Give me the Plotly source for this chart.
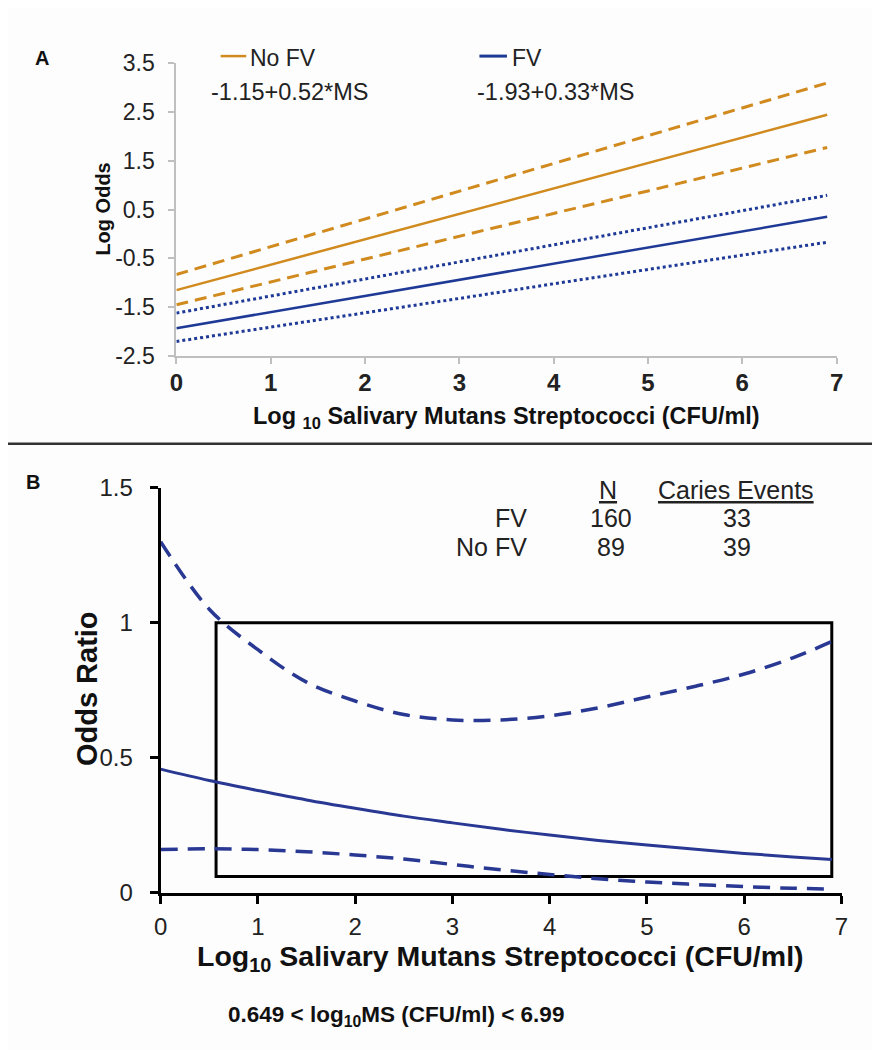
import plotly.graph_objects as go

# ---------------- Panel A data ----------------
X_A = [0, 1, 2, 3, 4, 5, 6, 6.9]
NOFV_FIT = [-1.15, -0.63, -0.11, 0.41, 0.93, 1.45, 1.97, 2.44]
NOFV_UP = [-0.83, -0.26, 0.31, 0.87, 1.44, 2.01, 2.58, 3.09]
NOFV_LO = [-1.45, -0.98, -0.52, -0.05, 0.42, 0.88, 1.35, 1.77]
FV_FIT = [-1.93, -1.60, -1.27, -0.94, -0.61, -0.28, 0.05, 0.35]
FV_UP = [-1.62, -1.27, -0.92, -0.57, -0.22, 0.13, 0.47, 0.79]
FV_LO = [-2.20, -1.91, -1.61, -1.32, -1.02, -0.73, -0.44, -0.17]
A_YTICKS = [-2.5, -1.5, -0.5, 0.5, 1.5, 2.5, 3.5]
A_XTICKS = [0, 1, 2, 3, 4, 5, 6, 7]
EQ_NOFV = "-1.15+0.52*MS"
EQ_FV = "-1.93+0.33*MS"

# ---------------- Panel B data ----------------
X_B = [0, 0.5, 1, 1.5, 2, 2.5, 3, 3.5, 4, 4.5, 5, 5.5, 6, 6.5, 6.9]
OR_FIT = [0.458, 0.416, 0.379, 0.344, 0.313, 0.284, 0.259, 0.235, 0.214, 0.194,
          0.177, 0.161, 0.146, 0.133, 0.123]
OR_UP = [1.30, 1.05, 0.90, 0.78, 0.71, 0.66, 0.64, 0.64, 0.655, 0.685,
         0.725, 0.765, 0.81, 0.87, 0.93]
OR_LO = [0.16, 0.163, 0.16, 0.152, 0.14, 0.125, 0.105, 0.085, 0.068, 0.052,
         0.04, 0.031, 0.023, 0.017, 0.014]
B_YTICKS = [0, 0.5, 1, 1.5]
B_YTICKTEXT = ["0", "0.5", "1", "1.5"]
B_XTICKS = [0, 1, 2, 3, 4, 5, 6, 7]
BOX_X = [0.57, 6.9]
BOX_Y = [0.06, 1.0]
TABLE_ROWS = ["FV", "No FV"]
TABLE_N = [160, 89]
TABLE_EVENTS = [33, 39]

ORANGE = "#D08A1E"
BLUE_A = "#1F3A96"
BLUE_B = "#283893"
FONT = "Liberation Sans, Arial, sans-serif"

# the page body has an 8px default margin; the figure is sized to fit the window
OFF = 8
W, H = 880 - OFF, 1050 - OFF


def px(x):
    return (x - OFF) / W


def py(y):
    return 1 - (y - OFF) / H


fig = go.Figure()

# Panel A traces
fig.add_trace(go.Scatter(x=X_A, y=NOFV_UP, mode="lines", xaxis="x", yaxis="y",
                         line=dict(color=ORANGE, width=3, dash="12px,7px")))
fig.add_trace(go.Scatter(x=X_A, y=NOFV_FIT, mode="lines", xaxis="x", yaxis="y",
                         line=dict(color=ORANGE, width=2.5)))
fig.add_trace(go.Scatter(x=X_A, y=NOFV_LO, mode="lines", xaxis="x", yaxis="y",
                         line=dict(color=ORANGE, width=3, dash="12px,7px")))
fig.add_trace(go.Scatter(x=X_A, y=FV_UP, mode="lines", xaxis="x", yaxis="y",
                         line=dict(color=BLUE_A, width=3, dash="3px,3px")))
fig.add_trace(go.Scatter(x=X_A, y=FV_FIT, mode="lines", xaxis="x", yaxis="y",
                         line=dict(color=BLUE_A, width=2.5)))
fig.add_trace(go.Scatter(x=X_A, y=FV_LO, mode="lines", xaxis="x", yaxis="y",
                         line=dict(color=BLUE_A, width=3, dash="3px,3px")))

# Panel B traces
fig.add_trace(go.Scatter(x=X_B, y=OR_UP, mode="lines", xaxis="x2", yaxis="y2",
                         line=dict(color=BLUE_B, width=3.5, dash="17px,10px", shape="spline")))
fig.add_trace(go.Scatter(x=X_B, y=OR_FIT, mode="lines", xaxis="x2", yaxis="y2",
                         line=dict(color=BLUE_B, width=3, shape="spline")))
fig.add_trace(go.Scatter(x=X_B, y=OR_LO, mode="lines", xaxis="x2", yaxis="y2",
                         line=dict(color=BLUE_B, width=3.5, dash="17px,10px", shape="spline")))

shapes = [
    dict(type="rect", xref="x2", yref="y2", x0=BOX_X[0], x1=BOX_X[1], y0=BOX_Y[0], y1=BOX_Y[1],
         line=dict(color="black", width=3), fillcolor="rgba(0,0,0,0)", layer="below"),
    dict(type="line", xref="paper", yref="paper", x0=px(0), x1=1, y0=py(441), y1=py(441),
         line=dict(color="#333333", width=2.5)),
    dict(type="line", xref="paper", yref="paper", x0=px(217), x1=px(243), y0=py(43), y1=py(43),
         line=dict(color=ORANGE, width=2.5)),
    dict(type="line", xref="paper", yref="paper", x0=px(480), x1=px(508), y0=py(43), y1=py(43),
         line=dict(color=BLUE_A, width=3)),
]

ann = []


def add_text(text, x, y, size, xanchor="center", bold=False, color="#222222", angle=0, family=FONT):
    ann.append(dict(text=text, xref="paper", yref="paper", x=px(x), y=py(y), showarrow=False,
                    xanchor=xanchor, yanchor="middle", textangle=angle,
                    font=dict(family=family, size=size, color=color,
                              weight="bold" if bold else "normal")))


add_text("A", 26, 45, 20, xanchor="left", bold=True, color="#111")
add_text("B", 17, 480, 20, xanchor="left", bold=True, color="#111")
add_text("No FV", 245, 45, 23, xanchor="left")
add_text("FV", 511, 45, 23, xanchor="left")
add_text(EQ_NOFV, 205, 80, 23.5, xanchor="left")
add_text(EQ_FV, 476, 80, 23.5, xanchor="left")
add_text("Log Odds", 97, 200, 20, bold=True, angle=-90, color="#111")
add_text("Log <sub>10</sub> Salivary Mutans Streptococci (CFU/ml)", 508, 414, 23.5, bold=True, color="#111")

# Panel B texts
add_text("Odds Ratio", 81, 692, 29, bold=True, angle=-90, color="#111")
add_text("Log<sub>10</sub> Salivary Mutans Streptococci (CFU/ml)", 501, 969, 28.5, bold=True, color="#111")
add_text("0.649 &lt; log<sub>10</sub>MS (CFU/ml) &lt; 6.99", 395, 1028, 22.5, bold=True, color="#111")
add_text("<u>N</u>", 611, 488, 25)
add_text("<u>Caries Events</u>", 741, 488, 25)
row_y = [517, 547]
for r, n, e, yy in zip(TABLE_ROWS, TABLE_N, TABLE_EVENTS, row_y):
    add_text(r, 530, yy, 25, xanchor="right")
    add_text(str(n), 614, yy, 25)
    add_text(str(e), 742, yy, 25)

fig.update_layout(
    width=W, height=H, autosize=False,
    margin=dict(l=0, r=0, t=0, b=0),
    paper_bgcolor="#fdfdfd", plot_bgcolor="rgba(0,0,0,0)",
    showlegend=False,
    shapes=shapes, annotations=ann,
    xaxis=dict(domain=[px(172), px(843)], range=[0, 7], anchor="y",
               tickvals=A_XTICKS, ticks="outside", ticklen=6, tickwidth=2, tickcolor="#bfbfbf",
               showline=True, linecolor="#bfbfbf", linewidth=2, showgrid=False, zeroline=False,
               tickfont=dict(family=FONT, size=24, color="#222", weight="bold"), ticklabelstandoff=-2),
    yaxis=dict(domain=[py(351), py(50)], range=[-2.5, 3.5], anchor="x",
               tickvals=A_YTICKS, ticktext=[str(v) for v in A_YTICKS],
               ticks="outside", ticklen=6, tickwidth=2, tickcolor="#bfbfbf",
               showline=True, linecolor="#bfbfbf", linewidth=2, showgrid=False, zeroline=False,
               tickfont=dict(family=FONT, size=23, color="#222"), ticklabelstandoff=9),
    xaxis2=dict(domain=[px(156), px(848)], range=[0, 7], anchor="y2",
                tickvals=B_XTICKS, ticks="outside", ticklen=8, tickwidth=3, tickcolor="black",
                showline=True, linecolor="black", linewidth=3, showgrid=False, zeroline=False,
                tickfont=dict(family=FONT, size=24, color="#222"), ticklabelstandoff=2),
    yaxis2=dict(domain=[py(902), py(486)], range=[0, 1.5], anchor="x2",
                tickvals=B_YTICKS, ticktext=B_YTICKTEXT,
                ticks="outside", ticklen=8, tickwidth=3, tickcolor="black",
                showline=True, linecolor="black", linewidth=3, showgrid=False, zeroline=False,
                tickfont=dict(family=FONT, size=24, color="#222"), ticklabelstandoff=12),
)

fig.write_html("out.html")
